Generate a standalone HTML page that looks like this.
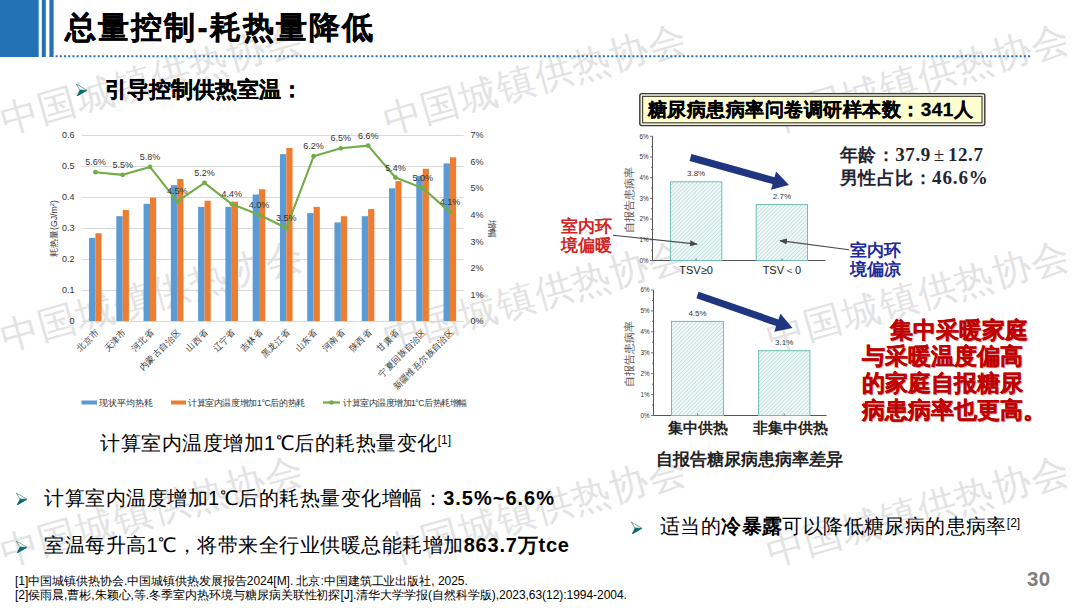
<!DOCTYPE html>
<html><head><meta charset="utf-8">
<style>
html,body{margin:0;padding:0;background:#fff;}
body{width:1080px;height:608px;position:relative;overflow:hidden;font-family:"Liberation Sans",sans-serif;color:#000;}
.a{position:absolute;white-space:nowrap;}
svg text{font-family:"Liberation Sans",sans-serif;}
.wm{position:absolute;white-space:nowrap;font-size:38px;line-height:38px;color:#e3e3e3;transform-origin:0 0;transform:rotate(-15.7deg);letter-spacing:1.2px;font-weight:normal;}
.serif{font-family:"Liberation Serif",serif;}
.arr{position:absolute;width:12px;height:13px;}
</style></head><body>
<!-- watermarks -->
<div class="wm" style="left:-4.3px;top:102.5px;">中国城镇供热协会</div>
<div class="wm" style="left:378.7px;top:102.5px;">中国城镇供热协会</div>
<div class="wm" style="left:762px;top:102.5px;">中国城镇供热协会</div>
<div class="wm" style="left:-4.3px;top:319.5px;">中国城镇供热协会</div>
<div class="wm" style="left:378.7px;top:319.5px;">中国城镇供热协会</div>
<div class="wm" style="left:762px;top:319.5px;">中国城镇供热协会</div>
<div class="wm" style="left:-4.3px;top:535px;">中国城镇供热协会</div>
<div class="wm" style="left:378.7px;top:535px;">中国城镇供热协会</div>
<div class="wm" style="left:762px;top:535px;">中国城镇供热协会</div>

<!-- header bars -->
<svg class="a" style="left:0;top:0" width="1080" height="60"><rect x="0" y="0" width="38.7" height="57" fill="#2372b5"/><rect x="41.8" y="0" width="4" height="57" fill="#2372b5"/><rect x="49.4" y="0" width="4.2" height="57" fill="#2372b5"/><line x1="55.6" y1="56.3" x2="1031" y2="56.3" stroke="#2372b5" stroke-width="2" stroke-dasharray="2 2.21"/></svg>

<div class="a" style="left:65px;top:8px;font-size:30.5px;font-weight:bold;-webkit-text-stroke:0.35px #000;letter-spacing:2.1px;">总量控制-耗热量降低</div>

<svg class="arr" style="left:75px;top:83px" viewBox="0 0 12 13"><path d="M1.3,1.1 L12.4,7.4 L4.8,6.9 Z" fill="#fff" stroke="#1a6b6b" stroke-width="0.6"/><path d="M12.4,7.4 L1.2,14 L4.8,6.9 Z" fill="#076b6b"/></svg>
<div class="a" style="left:105px;top:75px;font-size:22px;font-weight:bold;-webkit-text-stroke:0.25px #000;">引导控制供热室温：</div>

<svg class="a" style="left:0;top:0" width="1080" height="608">
<line x1="81.8" y1="321.5" x2="463.6" y2="321.5" stroke="#D9D9D9" stroke-width="1"/>
<line x1="81.8" y1="290.5" x2="463.6" y2="290.5" stroke="#D9D9D9" stroke-width="1"/>
<line x1="81.8" y1="259.5" x2="463.6" y2="259.5" stroke="#D9D9D9" stroke-width="1"/>
<line x1="81.8" y1="228.5" x2="463.6" y2="228.5" stroke="#D9D9D9" stroke-width="1"/>
<line x1="81.8" y1="197.5" x2="463.6" y2="197.5" stroke="#D9D9D9" stroke-width="1"/>
<line x1="81.8" y1="166.5" x2="463.6" y2="166.5" stroke="#D9D9D9" stroke-width="1"/>
<line x1="81.8" y1="135.5" x2="463.6" y2="135.5" stroke="#D9D9D9" stroke-width="1"/>
<text x="74.5" y="324.2" text-anchor="end" font-size="9" fill="#333">0</text>
<text x="74.5" y="293.2" text-anchor="end" font-size="9" fill="#333">0.1</text>
<text x="74.5" y="262.2" text-anchor="end" font-size="9" fill="#333">0.2</text>
<text x="74.5" y="231.2" text-anchor="end" font-size="9" fill="#333">0.3</text>
<text x="74.5" y="200.2" text-anchor="end" font-size="9" fill="#333">0.4</text>
<text x="74.5" y="169.2" text-anchor="end" font-size="9" fill="#333">0.5</text>
<text x="74.5" y="138.2" text-anchor="end" font-size="9" fill="#333">0.6</text>
<text x="470.5" y="324.2" font-size="9" fill="#333">0%</text>
<text x="470.5" y="297.6" font-size="9" fill="#333">1%</text>
<text x="470.5" y="271.1" font-size="9" fill="#333">2%</text>
<text x="470.5" y="244.5" font-size="9" fill="#333">3%</text>
<text x="470.5" y="217.9" font-size="9" fill="#333">4%</text>
<text x="470.5" y="191.3" font-size="9" fill="#333">5%</text>
<text x="470.5" y="164.8" font-size="9" fill="#333">6%</text>
<text x="470.5" y="138.2" font-size="9" fill="#333">7%</text>
<rect x="89.04" y="237.90" width="6.4" height="83.10" fill="#5B9BD5"/>
<rect x="95.44" y="233.25" width="6.2" height="87.75" fill="#ED7D31"/>
<rect x="116.31" y="216.20" width="6.4" height="104.80" fill="#5B9BD5"/>
<rect x="122.71" y="210.00" width="6.2" height="111.00" fill="#ED7D31"/>
<rect x="143.58" y="203.80" width="6.4" height="117.20" fill="#5B9BD5"/>
<rect x="149.98" y="197.60" width="6.2" height="123.40" fill="#ED7D31"/>
<rect x="170.85" y="185.20" width="6.4" height="135.80" fill="#5B9BD5"/>
<rect x="177.25" y="179.00" width="6.2" height="142.00" fill="#ED7D31"/>
<rect x="198.12" y="206.90" width="6.4" height="114.10" fill="#5B9BD5"/>
<rect x="204.52" y="200.70" width="6.2" height="120.30" fill="#ED7D31"/>
<rect x="225.39" y="206.90" width="6.4" height="114.10" fill="#5B9BD5"/>
<rect x="231.79" y="201.63" width="6.2" height="119.37" fill="#ED7D31"/>
<rect x="252.66" y="194.50" width="6.4" height="126.50" fill="#5B9BD5"/>
<rect x="259.06" y="189.23" width="6.2" height="131.77" fill="#ED7D31"/>
<rect x="279.94" y="154.20" width="6.4" height="166.80" fill="#5B9BD5"/>
<rect x="286.34" y="148.00" width="6.2" height="173.00" fill="#ED7D31"/>
<rect x="307.21" y="213.10" width="6.4" height="107.90" fill="#5B9BD5"/>
<rect x="313.61" y="206.90" width="6.2" height="114.10" fill="#ED7D31"/>
<rect x="334.48" y="222.40" width="6.4" height="98.60" fill="#5B9BD5"/>
<rect x="340.88" y="216.20" width="6.2" height="104.80" fill="#ED7D31"/>
<rect x="361.75" y="216.20" width="6.4" height="104.80" fill="#5B9BD5"/>
<rect x="368.15" y="209.07" width="6.2" height="111.93" fill="#ED7D31"/>
<rect x="389.02" y="188.30" width="6.4" height="132.70" fill="#5B9BD5"/>
<rect x="395.42" y="181.17" width="6.2" height="139.83" fill="#ED7D31"/>
<rect x="416.29" y="175.90" width="6.4" height="145.10" fill="#5B9BD5"/>
<rect x="422.69" y="168.77" width="6.2" height="152.23" fill="#ED7D31"/>
<rect x="443.56" y="163.50" width="6.4" height="157.50" fill="#5B9BD5"/>
<rect x="449.96" y="157.30" width="6.2" height="163.70" fill="#ED7D31"/>
<polyline points="95.44,172.20 122.71,174.86 149.98,166.89 177.25,201.43 204.52,182.83 231.79,204.09 259.06,214.71 286.34,228.00 313.61,156.26 340.88,148.29 368.15,145.63 395.42,177.51 422.69,188.14 449.96,212.06" fill="none" stroke="#70AD47" stroke-width="2.1" stroke-linejoin="round"/>
<circle cx="95.44" cy="172.20" r="2.4" fill="#70AD47"/>
<circle cx="122.71" cy="174.86" r="2.4" fill="#70AD47"/>
<circle cx="149.98" cy="166.89" r="2.4" fill="#70AD47"/>
<circle cx="177.25" cy="201.43" r="2.4" fill="#70AD47"/>
<circle cx="204.52" cy="182.83" r="2.4" fill="#70AD47"/>
<circle cx="231.79" cy="204.09" r="2.4" fill="#70AD47"/>
<circle cx="259.06" cy="214.71" r="2.4" fill="#70AD47"/>
<circle cx="286.34" cy="228.00" r="2.4" fill="#70AD47"/>
<circle cx="313.61" cy="156.26" r="2.4" fill="#70AD47"/>
<circle cx="340.88" cy="148.29" r="2.4" fill="#70AD47"/>
<circle cx="368.15" cy="145.63" r="2.4" fill="#70AD47"/>
<circle cx="395.42" cy="177.51" r="2.4" fill="#70AD47"/>
<circle cx="422.69" cy="188.14" r="2.4" fill="#70AD47"/>
<circle cx="449.96" cy="212.06" r="2.4" fill="#70AD47"/>
<text x="95.44" y="165.20" text-anchor="middle" font-size="9" fill="#333">5.6%</text>
<text x="122.71" y="167.86" text-anchor="middle" font-size="9" fill="#333">5.5%</text>
<text x="149.98" y="159.89" text-anchor="middle" font-size="9" fill="#333">5.8%</text>
<text x="177.25" y="194.43" text-anchor="middle" font-size="9" fill="#333">4.5%</text>
<text x="204.52" y="175.83" text-anchor="middle" font-size="9" fill="#333">5.2%</text>
<text x="231.79" y="197.09" text-anchor="middle" font-size="9" fill="#333">4.4%</text>
<text x="259.06" y="207.71" text-anchor="middle" font-size="9" fill="#333">4.0%</text>
<text x="286.34" y="221.00" text-anchor="middle" font-size="9" fill="#333">3.5%</text>
<text x="313.61" y="149.26" text-anchor="middle" font-size="9" fill="#333">6.2%</text>
<text x="340.88" y="141.29" text-anchor="middle" font-size="9" fill="#333">6.5%</text>
<text x="368.15" y="138.63" text-anchor="middle" font-size="9" fill="#333">6.6%</text>
<text x="395.42" y="170.51" text-anchor="middle" font-size="9" fill="#333">5.4%</text>
<text x="422.69" y="181.14" text-anchor="middle" font-size="9" fill="#333">5.0%</text>
<text x="449.96" y="205.06" text-anchor="middle" font-size="9" fill="#333">4.1%</text>
<text transform="translate(99.44,333) rotate(-45)" text-anchor="end" font-size="8.7" fill="#333">北京市</text>
<text transform="translate(126.71,333) rotate(-45)" text-anchor="end" font-size="8.7" fill="#333">天津市</text>
<text transform="translate(153.98,333) rotate(-45)" text-anchor="end" font-size="8.7" fill="#333">河北省</text>
<text transform="translate(181.25,333) rotate(-45)" text-anchor="end" font-size="8.7" fill="#333">内蒙古自治区</text>
<text transform="translate(208.52,333) rotate(-45)" text-anchor="end" font-size="8.7" fill="#333">山西省</text>
<text transform="translate(235.79,333) rotate(-45)" text-anchor="end" font-size="8.7" fill="#333">辽宁省</text>
<text transform="translate(263.06,333) rotate(-45)" text-anchor="end" font-size="8.7" fill="#333">吉林省</text>
<text transform="translate(290.34,333) rotate(-45)" text-anchor="end" font-size="8.7" fill="#333">黑龙江省</text>
<text transform="translate(317.61,333) rotate(-45)" text-anchor="end" font-size="8.7" fill="#333">山东省</text>
<text transform="translate(344.88,333) rotate(-45)" text-anchor="end" font-size="8.7" fill="#333">河南省</text>
<text transform="translate(372.15,333) rotate(-45)" text-anchor="end" font-size="8.7" fill="#333">陕西省</text>
<text transform="translate(399.42,333) rotate(-45)" text-anchor="end" font-size="8.7" fill="#333">甘肃省</text>
<text transform="translate(426.69,333) rotate(-45)" text-anchor="end" font-size="8.7" fill="#333">宁夏回族自治区</text>
<text transform="translate(453.96,333) rotate(-45)" text-anchor="end" font-size="8.7" fill="#333">新疆维吾尔族自治区</text>
<text transform="translate(56.5,228.5) rotate(-90)" text-anchor="middle" font-size="8.7" fill="#333">耗热量(GJ/m<tspan font-size="6" dy="-3">2</tspan><tspan dy="3">)</tspan></text>
<text transform="translate(488.6,229) rotate(90)" text-anchor="middle" font-size="8.7" fill="#333">增幅</text>
<rect x="81.5" y="400.5" width="15.5" height="4" fill="#5B9BD5"/>
<text x="99" y="405.8" font-size="8.7" fill="#333">现状平均热耗</text>
<rect x="171" y="400.5" width="15" height="4" fill="#ED7D31"/>
<text x="188" y="405.8" font-size="8.7" letter-spacing="-0.38" fill="#333">计算室内温度增加1°C后的热耗</text>
<line x1="323" y1="402.5" x2="340" y2="402.5" stroke="#70AD47" stroke-width="2.3"/><circle cx="331.5" cy="402.5" r="2.3" fill="#70AD47"/>
<text x="343" y="405.8" font-size="8.7" letter-spacing="-0.5" fill="#333">计算室内温度增加1°C后热耗增幅</text>
</svg>

<div class="a" style="left:100px;top:429.5px;font-size:20px;letter-spacing:0.5px;">计算室内温度增加1℃后的耗热量变化<span style="font-size:12px;vertical-align:6px;letter-spacing:0">[1]</span></div>

<svg class="arr" style="left:15px;top:492px" viewBox="0 0 12 13"><path d="M1.3,1.1 L12.4,7.4 L4.8,6.9 Z" fill="#fff" stroke="#1a6b6b" stroke-width="0.6"/><path d="M12.4,7.4 L1.2,14 L4.8,6.9 Z" fill="#076b6b"/></svg>
<div class="a" style="left:44px;top:484.5px;font-size:20px;letter-spacing:0.5px;">计算室内温度增加1℃后的耗热量变化增幅：<b style="letter-spacing:1px">3.5%~6.6%</b></div>
<svg class="arr" style="left:15px;top:540px" viewBox="0 0 12 13"><path d="M1.3,1.1 L12.4,7.4 L4.8,6.9 Z" fill="#fff" stroke="#1a6b6b" stroke-width="0.6"/><path d="M12.4,7.4 L1.2,14 L4.8,6.9 Z" fill="#076b6b"/></svg>
<div class="a" style="left:44px;top:532px;font-size:20px;letter-spacing:0.5px;">室温每升高1℃，将带来全行业供暖总能耗增加<b style="letter-spacing:0.8px">863.7万tce</b></div>

<svg class="a" style="left:0;top:0" width="1080" height="608">
<defs><pattern id="hatch" patternUnits="userSpaceOnUse" width="2.8" height="2.8" patternTransform="rotate(45)"><rect width="2.8" height="2.8" fill="#f4fafa"/><line x1="0.5" y1="0" x2="0.5" y2="2.8" stroke="#bcdedb" stroke-width="0.9"/></pattern><marker id="ah" viewBox="0 0 10 10" refX="9" refY="5" markerWidth="7" markerHeight="7" orient="auto"><path d="M0,1 L10,5 L0,9 z" fill="#4a4a4a"/></marker></defs>
<rect x="639.8" y="93.6" width="345" height="32" rx="2" fill="#f1efe6" stroke="#3a3a30" stroke-width="1.4"/>
<rect x="642.6" y="96.4" width="339.4" height="26.4" fill="#ffffcf" stroke="#4f4d3a" stroke-width="1.2"/>
<line x1="652.5" y1="136.3" x2="652.5" y2="260.5" stroke="#555" stroke-width="1"/>
<line x1="652.5" y1="260.5" x2="825.5" y2="260.5" stroke="#555" stroke-width="1"/>
<line x1="650.0" y1="260.5" x2="652.5" y2="260.5" stroke="#555" stroke-width="0.8"/>
<line x1="651.0" y1="250.2" x2="652.5" y2="250.2" stroke="#555" stroke-width="0.8"/>
<text x="648.5" y="262.7" text-anchor="end" font-size="6.3" fill="#333">0%</text>
<line x1="650.0" y1="239.8" x2="652.5" y2="239.8" stroke="#555" stroke-width="0.8"/>
<line x1="651.0" y1="229.5" x2="652.5" y2="229.5" stroke="#555" stroke-width="0.8"/>
<text x="648.5" y="242.0" text-anchor="end" font-size="6.3" fill="#333">1%</text>
<line x1="650.0" y1="219.1" x2="652.5" y2="219.1" stroke="#555" stroke-width="0.8"/>
<line x1="651.0" y1="208.8" x2="652.5" y2="208.8" stroke="#555" stroke-width="0.8"/>
<text x="648.5" y="221.3" text-anchor="end" font-size="6.3" fill="#333">2%</text>
<line x1="650.0" y1="198.4" x2="652.5" y2="198.4" stroke="#555" stroke-width="0.8"/>
<line x1="651.0" y1="188.1" x2="652.5" y2="188.1" stroke="#555" stroke-width="0.8"/>
<text x="648.5" y="200.6" text-anchor="end" font-size="6.3" fill="#333">3%</text>
<line x1="650.0" y1="177.7" x2="652.5" y2="177.7" stroke="#555" stroke-width="0.8"/>
<line x1="651.0" y1="167.3" x2="652.5" y2="167.3" stroke="#555" stroke-width="0.8"/>
<text x="648.5" y="179.9" text-anchor="end" font-size="6.3" fill="#333">4%</text>
<line x1="650.0" y1="157.0" x2="652.5" y2="157.0" stroke="#555" stroke-width="0.8"/>
<line x1="651.0" y1="146.7" x2="652.5" y2="146.7" stroke="#555" stroke-width="0.8"/>
<text x="648.5" y="159.2" text-anchor="end" font-size="6.3" fill="#333">5%</text>
<line x1="650.0" y1="136.3" x2="652.5" y2="136.3" stroke="#555" stroke-width="0.8"/>
<text x="648.5" y="138.5" text-anchor="end" font-size="6.3" fill="#333">6%</text>
<rect x="670.4" y="181.8" width="51.4" height="78.7" fill="url(#hatch)" stroke="#6fbdb4" stroke-width="1"/>
<text x="696.1" y="176.3" text-anchor="middle" font-size="8" fill="#333">3.8%</text>
<line x1="696.1" y1="260.5" x2="696.1" y2="258.5" stroke="#555" stroke-width="0.8"/>
<text x="696.1" y="273.5" text-anchor="middle" font-size="11" fill="#222">TSV≥0</text>
<rect x="756.2" y="204.6" width="51.3" height="55.9" fill="url(#hatch)" stroke="#6fbdb4" stroke-width="1"/>
<text x="781.9" y="199.1" text-anchor="middle" font-size="8" fill="#333">2.7%</text>
<line x1="781.9" y1="260.5" x2="781.9" y2="258.5" stroke="#555" stroke-width="0.8"/>
<text x="781.9" y="273.5" text-anchor="middle" font-size="11" fill="#222">TSV＜0</text>
<line x1="653.5" y1="290.0" x2="653.5" y2="415.5" stroke="#555" stroke-width="1"/>
<line x1="653.5" y1="415.5" x2="826.5" y2="415.5" stroke="#555" stroke-width="1"/>
<line x1="651.0" y1="415.5" x2="653.5" y2="415.5" stroke="#555" stroke-width="0.8"/>
<line x1="652.0" y1="405.0" x2="653.5" y2="405.0" stroke="#555" stroke-width="0.8"/>
<text x="649.5" y="417.7" text-anchor="end" font-size="6.3" fill="#333">0%</text>
<line x1="651.0" y1="394.6" x2="653.5" y2="394.6" stroke="#555" stroke-width="0.8"/>
<line x1="652.0" y1="384.1" x2="653.5" y2="384.1" stroke="#555" stroke-width="0.8"/>
<text x="649.5" y="396.8" text-anchor="end" font-size="6.3" fill="#333">1%</text>
<line x1="651.0" y1="373.7" x2="653.5" y2="373.7" stroke="#555" stroke-width="0.8"/>
<line x1="652.0" y1="363.2" x2="653.5" y2="363.2" stroke="#555" stroke-width="0.8"/>
<text x="649.5" y="375.9" text-anchor="end" font-size="6.3" fill="#333">2%</text>
<line x1="651.0" y1="352.8" x2="653.5" y2="352.8" stroke="#555" stroke-width="0.8"/>
<line x1="652.0" y1="342.3" x2="653.5" y2="342.3" stroke="#555" stroke-width="0.8"/>
<text x="649.5" y="354.9" text-anchor="end" font-size="6.3" fill="#333">3%</text>
<line x1="651.0" y1="331.8" x2="653.5" y2="331.8" stroke="#555" stroke-width="0.8"/>
<line x1="652.0" y1="321.4" x2="653.5" y2="321.4" stroke="#555" stroke-width="0.8"/>
<text x="649.5" y="334.0" text-anchor="end" font-size="6.3" fill="#333">4%</text>
<line x1="651.0" y1="310.9" x2="653.5" y2="310.9" stroke="#555" stroke-width="0.8"/>
<line x1="652.0" y1="300.5" x2="653.5" y2="300.5" stroke="#555" stroke-width="0.8"/>
<text x="649.5" y="313.1" text-anchor="end" font-size="6.3" fill="#333">5%</text>
<line x1="651.0" y1="290.0" x2="653.5" y2="290.0" stroke="#555" stroke-width="0.8"/>
<text x="649.5" y="292.2" text-anchor="end" font-size="6.3" fill="#333">6%</text>
<rect x="671.5" y="321.4" width="51.9" height="94.1" fill="url(#hatch)" stroke="#6fbdb4" stroke-width="1"/>
<text x="697.5" y="315.9" text-anchor="middle" font-size="8" fill="#333">4.5%</text>
<line x1="697.5" y1="415.5" x2="697.5" y2="413.5" stroke="#555" stroke-width="0.8"/>
<text x="697.5" y="432.5" text-anchor="middle" font-size="15" font-weight="bold" font-family="Liberation Serif, serif" fill="#222">集中供热</text>
<rect x="758.6" y="350.7" width="51.3" height="64.8" fill="url(#hatch)" stroke="#6fbdb4" stroke-width="1"/>
<text x="784.2" y="345.2" text-anchor="middle" font-size="8" fill="#333">3.1%</text>
<line x1="784.2" y1="415.5" x2="784.2" y2="413.5" stroke="#555" stroke-width="0.8"/>
<text x="790.2" y="432.5" text-anchor="middle" font-size="15" font-weight="bold" font-family="Liberation Serif, serif" fill="#222">非集中供热</text>
<text transform="translate(633,199.5) rotate(-90)" text-anchor="middle" font-size="10.5" font-family="Liberation Serif, serif" fill="#555">自报告患病率</text>
<text transform="translate(633,354) rotate(-90)" text-anchor="middle" font-size="10.5" font-family="Liberation Serif, serif" fill="#555">自报告患病率</text>
<polygon points="689.6,160.9 772.6,184.1 771.0,189.8 789.0,185.0 776.1,171.5 774.5,177.3 691.4,154.1" fill="#1f3580"/>
<polygon points="696.4,298.3 776.2,326.1 774.3,331.7 792.5,328.0 780.5,313.8 778.5,319.4 698.6,291.7" fill="#1f3580"/>
<line x1="613" y1="235.2" x2="697" y2="244.1" stroke="#4a4a4a" stroke-width="1.1" marker-end="url(#ah)"/>
<line x1="849" y1="249.7" x2="780" y2="240.6" stroke="#4a4a4a" stroke-width="1.1" marker-end="url(#ah)"/>
</svg>
<div class="a" style="left:648px;top:97px;font-size:19px;font-weight:bold;letter-spacing:0.48px;-webkit-text-stroke:0.3px #000;">糖尿病患病率问卷调研样本数：341人</div>
<div class="a serif" style="left:840px;top:144px;font-size:18px;line-height:22.5px;font-weight:bold;color:#222433;letter-spacing:0.4px;">年龄：<span style="font-size:19px;letter-spacing:0.6px">37.9<span style="font-weight:normal;margin:0 3px 0 3px">±</span>12.7</span><br>男性占比：<span style="font-size:19px;letter-spacing:0.9px">46.6%</span></div>
<div class="a serif" style="left:561px;top:217px;font-size:17px;line-height:19px;font-weight:bold;color:#d42424;">室内环<br>境偏暖</div>
<div class="a serif" style="left:850px;top:240.5px;font-size:17px;line-height:19.5px;font-weight:bold;color:#1c2a9a;">室内环<br>境偏凉</div>
<div class="a serif" style="left:656px;top:448px;font-size:17px;font-weight:bold;color:#222;">自报告糖尿病患病率差异</div>
<div class="a" style="left:862px;top:316.5px;font-size:23px;line-height:26.8px;font-weight:bold;color:#c00000;-webkit-text-stroke:0.3px #c00000;text-shadow:1px 1px 1px rgba(80,0,0,0.4);"><span style="padding-left:28px"></span>集中采暖家庭<br>与采暖温度偏高<br>的家庭自报糖尿<br>病患病率也更高。</div>

<svg class="arr" style="left:630px;top:521px" viewBox="0 0 12 13"><path d="M1.3,1.1 L12.4,7.4 L4.8,6.9 Z" fill="#fff" stroke="#1a6b6b" stroke-width="0.6"/><path d="M12.4,7.4 L1.2,14 L4.8,6.9 Z" fill="#076b6b"/></svg>
<div class="a" style="left:660px;top:513px;font-size:20px;letter-spacing:0.4px;">适当的<b>冷暴露</b>可以降低糖尿病的患病率<span style="font-size:12px;vertical-align:6px;letter-spacing:0">[2]</span></div>
<div class="a" style="left:15px;top:574px;font-size:12px;line-height:14px;letter-spacing:-0.04px;">[1]中国城镇供热协会.中国城镇供热发展报告2024[M]. 北京:中国建筑工业出版社, 2025.<br>[2]侯雨晨,曹彬,朱颖心,等.冬季室内热环境与糖尿病关联性初探[J].清华大学学报(自然科学版),2023,63(12):1994-2004.</div>
<div class="a" style="left:1027px;top:567px;font-size:20.5px;letter-spacing:0.3px;font-weight:bold;color:#7f7f7f;">30</div>

</body></html>
